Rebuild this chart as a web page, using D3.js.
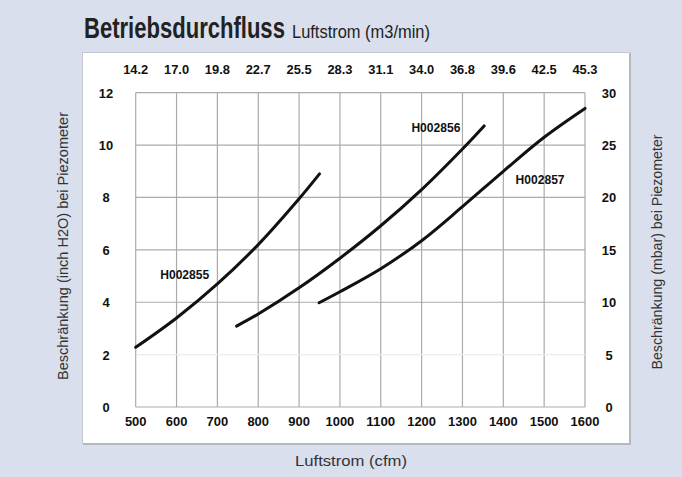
<!DOCTYPE html>
<html>
<head>
<meta charset="utf-8">
<script src="https://cdn.jsdelivr.net/npm/d3@7"></script>
<style>
  body { margin: 0; background: #d9dfec; }
  svg { display: block; }
  .tick-label { font-family: "Liberation Sans", Arial, sans-serif; font-weight: bold; font-size: 13.5px; fill: #111; }
  .axis-title { font-family: "Liberation Sans", Arial, sans-serif; fill: #333; }
</style>
</head>
<body>
<div id="chart"></div>
<script>
const width = 682
const height = 477

// data
const cfmTicks = [500, 600, 700, 800, 900, 1000, 1100, 1200, 1300, 1400, 1500, 1600]
const m3Labels = ["14.2", "17.0", "19.8", "22.7", "25.5", "28.3", "31.1", "34.0", "36.8", "39.6", "42.5", "45.3"]
const inchTicks = [0, 2, 4, 6, 8, 10, 12]
const mbarTicks = [0, 5, 10, 15, 20, 25, 30]

const h002855 = [[500, 2.28], [600, 3.40], [700, 4.70], [800, 6.20], [900, 7.95], [950, 8.9]]
const h002856 = [[747, 3.09], [800, 3.55], [900, 4.55], [1000, 5.68], [1100, 6.92], [1200, 8.3], [1300, 9.85], [1353, 10.73]]
const h002857 = [[949, 3.98], [1000, 4.40], [1100, 5.28], [1200, 6.35], [1300, 7.65], [1400, 9.0], [1500, 10.3], [1600, 11.4]]

const seriesNames = ["H002855", "H002856", "H002857"]
const labelAt = [[620, 4.9], [1235, 10.5], [1490, 8.5]]

// rough width of the condensed digits in the picture
function textWidth(s) {
  let w = 0
  for (let c of String(s)) w += (c == ".") ? 3.5 : 7.2
  return w
}

let svg = d3.select("#chart")
            .append("svg")
            .attr("width", width)
            .attr("height", height)

// white panel
svg.append("rect")
   .attr("x", 82.5).attr("y", 52.5)
   .attr("width", 547).attr("height", 391)
   .attr("fill", "#fff")
   .attr("stroke", "#c4c8d0")
   .attr("stroke-width", 1)
svg.append("path")
   .attr("d", "M630,53 V444 H83")
   .attr("fill", "none")
   .attr("stroke", "#b4b8c0")
   .attr("stroke-width", 2)

let x = d3.scaleLinear().domain([500, 1600]).range([135.7, 585])
let y = d3.scaleLinear().domain([0, 12]).range([407, 92.7])
let yR = d3.scaleLinear().domain([0, 30]).range([407, 92.7])

// grid
let grid = svg.append("g")
grid.selectAll(".vline")
    .data(cfmTicks)
    .enter()
    .append("line")
    .attr("x1", d => x(d)).attr("x2", d => x(d))
    .attr("y1", y(0)).attr("y2", y(12))
    .attr("stroke", "#ababab")
    .attr("stroke-width", 1.2)
grid.selectAll(".hline")
    .data(inchTicks)
    .enter()
    .append("line")
    .attr("x1", x(500)).attr("x2", x(1600))
    .attr("y1", d => y(d)).attr("y2", d => y(d))
    .attr("stroke", d => d == 2 ? "#ececec" : "#ababab")
    .attr("stroke-width", 1.2)

function tickText(g, data, fx, fy, fmt) {
  g.selectAll("text")
   .data(data)
   .enter()
   .append("text")
   .attr("class", "tick-label")
   .attr("x", fx)
   .attr("y", fy)
   .attr("text-anchor", "middle")
   .attr("textLength", (d, i) => textWidth(fmt(d, i)))
   .attr("lengthAdjust", "spacingAndGlyphs")
   .text(fmt)
}

tickText(svg.append("g"), cfmTicks, d => x(d), 426, d => d)
tickText(svg.append("g"), cfmTicks, d => x(d), 74, (d, i) => m3Labels[i])
tickText(svg.append("g"), inchTicks, 106, d => y(d) + 5, d => d)
tickText(svg.append("g"), mbarTicks, 609, d => yR(d) + 5, d => d)

// curves
let line = d3.line()
  .x(d => x(d[0]))
  .y(d => y(d[1]))
  .curve(d3.curveCatmullRom.alpha(0.5))

svg.append("g").selectAll("path")
   .data([h002855, h002856, h002857])
   .enter()
   .append("path")
   .attr("d", line)
   .attr("fill", "none")
   .attr("stroke", "#111")
   .attr("stroke-width", 3)
   .attr("stroke-linecap", "round")

svg.append("g").selectAll("text")
   .data(seriesNames)
   .enter()
   .append("text")
   .attr("class", "tick-label")
   .style("font-size", "12.5px")
   .attr("x", (d, i) => x(labelAt[i][0]))
   .attr("y", (d, i) => y(labelAt[i][1]))
   .attr("text-anchor", "middle")
   .attr("textLength", 49)
   .attr("lengthAdjust", "spacingAndGlyphs")
   .text(d => d)

// title, squeezed sideways to look condensed
function squeezed(txt, x0, y0, size, weight, w) {
  let t = svg.append("text")
     .attr("font-family", "'Liberation Sans', Arial, sans-serif")
     .attr("font-size", size)
     .attr("font-weight", weight)
     .attr("fill", "#222")
     .text(txt)
  let k = w / t.node().getComputedTextLength()
  t.attr("transform", "translate(" + x0 + "," + y0 + ") scale(" + k + ",1)")
}
squeezed("Betriebsdurchfluss", 84, 38, "29px", "bold", 201)
squeezed("Luftstrom (m3/min)", 292, 38, "18px", "normal", 138)

svg.append("text")
   .attr("class", "axis-title")
   .attr("x", 351)
   .attr("y", 466)
   .attr("text-anchor", "middle")
   .attr("font-size", "15.5px")
   .attr("textLength", 112)
   .attr("lengthAdjust", "spacingAndGlyphs")
   .text("Luftstrom (cfm)")

svg.append("text")
   .attr("class", "axis-title")
   .attr("transform", "translate(68,246) rotate(-90)")
   .attr("text-anchor", "middle")
   .attr("font-size", "15px")
   .attr("textLength", 268)
   .attr("lengthAdjust", "spacingAndGlyphs")
   .text("Beschränkung (inch H2O) bei Piezometer")

svg.append("text")
   .attr("class", "axis-title")
   .attr("transform", "translate(662,252) rotate(-90)")
   .attr("text-anchor", "middle")
   .attr("font-size", "15px")
   .attr("textLength", 235)
   .attr("lengthAdjust", "spacingAndGlyphs")
   .text("Beschränkung (mbar) bei Piezometer")
</script>
</body>
</html>
